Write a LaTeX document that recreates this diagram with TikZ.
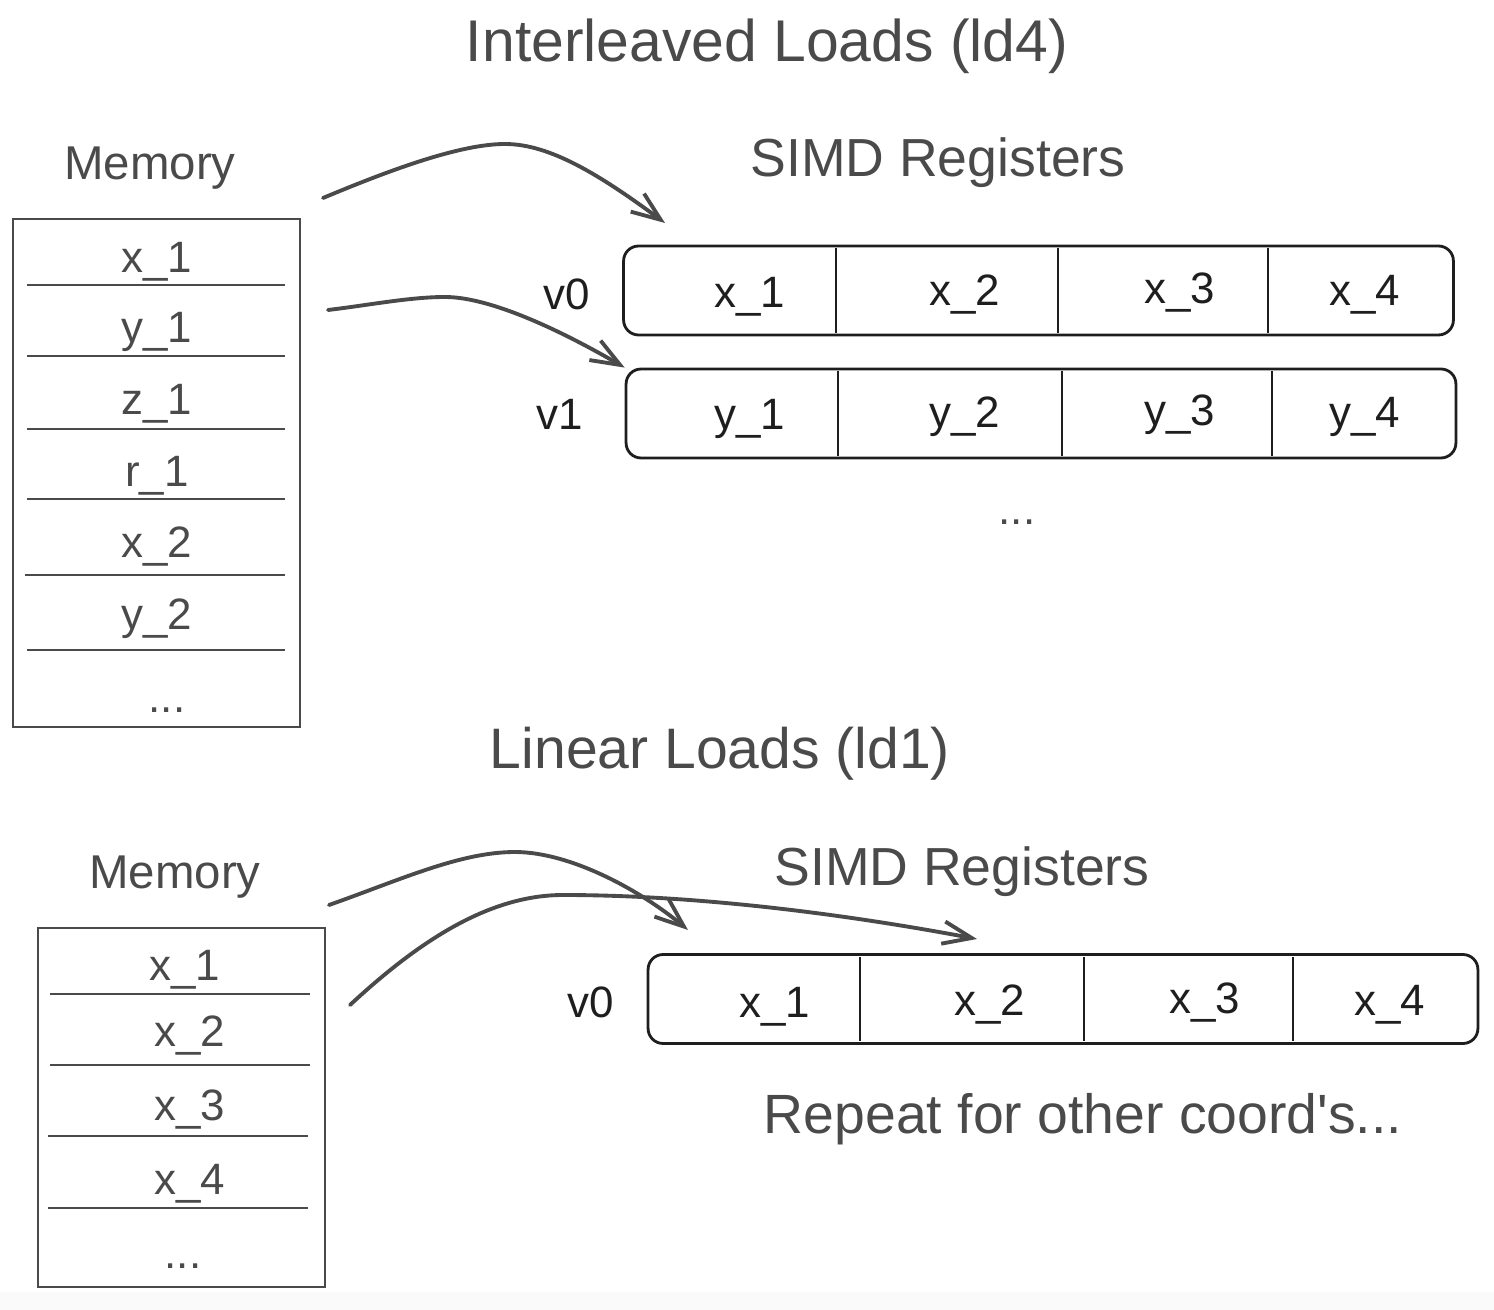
\documentclass[tikz,border=0pt]{standalone}
\usepackage{fontspec}
\setmainfont{Liberation Sans}
\usetikzlibrary{arrows.meta}

\definecolor{ink}{HTML}{1E1E1E}
\definecolor{pencil}{HTML}{4A4A4A}

\tikzset{
  heading/.style={text=pencil, anchor=base, font=\fontsize{31}{36}\selectfont},
  memtext/.style={text=pencil, anchor=base, font=\fontsize{25}{30}\selectfont},
  regtext/.style={text=ink, anchor=base, font=\fontsize{25}{30}\selectfont},
  membox/.style={draw=pencil, line width=1.4pt, minimum width=5.74cm, inner sep=0pt},
  regbox/.style={draw=ink, line width=1.6pt, rounded corners=0.3cm, minimum width=16.6cm, minimum height=1.78cm, inner sep=0pt},
  rowline/.style={draw=pencil, line width=1.4pt},
  laneline/.style={draw=ink, line width=1.6pt},
  load/.style={draw=pencil, line width=2.2pt, line cap=round, -{Straight Barb[length=0.58cm,width=0.45cm]}},
}

\begin{document}
\begin{tikzpicture}[x=0.02cm, y=-0.02cm]
  \useasboundingbox (0,0) rectangle (1494,1310);
  \fill[black!2] (0,1292) rectangle (1494,1310);

  % interleaved loads
  \node[heading, font=\fontsize{33.5}{38}\selectfont] (ttlA) at (767,62) {Interleaved Loads (ld4)};
  \node[heading, font=\fontsize{27}{32}\selectfont] (memA) at (150,180) {Memory};
  \node[heading, font=\fontsize{30.5}{35}\selectfont] (simdA) at (938,177) {SIMD Registers};

  \node[membox, minimum height=10.16cm] (memboxA) at (156.5,473) {};
  \draw[rowline] (27,285) -- (285,285);
  \draw[rowline] (27,356) -- (285,356);
  \draw[rowline] (27,429) -- (285,429);
  \draw[rowline] (27,499) -- (285,499);
  \draw[rowline] (25,575) -- (285,575);
  \draw[rowline] (27,650) -- (285,650);
  \node[memtext] (ax1) at (157,273) {x\_1};
  \node[memtext] (ay1) at (157,343) {y\_1};
  \node[memtext] (az1) at (157,415) {z\_1};
  \node[memtext] (ar1) at (157,487) {r\_1};
  \node[memtext] (ax2) at (157,558) {x\_2};
  \node[memtext] (ay2) at (157,630) {y\_2};
  \node[memtext] (adots) at (167,712) {...};

  \node[regbox] (v0A) at (1038.5,290.5) {};
  \draw[laneline] (836,248) -- (836,333);
  \draw[laneline] (1058,248) -- (1058,333);
  \draw[laneline] (1268,248) -- (1268,333);
  \node[regtext] (v0labA) at (567,310) {v0};
  \node[regtext] (rx1) at (750,308) {x\_1};
  \node[regtext] (rx2) at (965,306) {x\_2};
  \node[regtext] (rx3) at (1180,304) {x\_3};
  \node[regtext] (rx4) at (1365,306) {x\_4};

  \node[regbox] (v1A) at (1041,413.5) {};
  \draw[laneline] (838,371) -- (838,456);
  \draw[laneline] (1062,371) -- (1062,456);
  \draw[laneline] (1272,371) -- (1272,456);
  \node[regtext] (v1labA) at (560,430) {v1};
  \node[regtext] (ry1) at (750,430) {y\_1};
  \node[regtext] (ry2) at (965,428) {y\_2};
  \node[regtext] (ry3) at (1180,426) {y\_3};
  \node[regtext] (ry4) at (1365,428) {y\_4};
  \node[memtext] (regdots) at (1017,525) {...};

  \coordinate (aS1) at (323,198);
  \coordinate (aP1) at (505,144);
  \coordinate (aS2) at (328,310);
  \coordinate (aP2) at (445,297);
  \draw[load] (aS1) .. controls (390,170) and (460,144) .. (aP1)
              .. controls (550,144) and (600,175) .. (665,223);
  \draw[load] (aS2) .. controls (370,305) and (410,297) .. (aP2)
              .. controls (490,297) and (560,330) .. (v1A.north west);

  % linear loads
  \node[heading, font=\fontsize{32.5}{38}\selectfont] (ttlB) at (720,768) {Linear Loads (ld1)};
  \node[heading, font=\fontsize{27}{32}\selectfont] (memB) at (175,888) {Memory};
  \node[heading, font=\fontsize{30.5}{35}\selectfont] (simdB) at (962,885) {SIMD Registers};

  \node[membox, minimum height=7.18cm] (memboxB) at (181.5,1107.5) {};
  \draw[rowline] (50,994) -- (310,994);
  \draw[rowline] (50,1065) -- (310,1065);
  \draw[rowline] (48,1136) -- (308,1136);
  \draw[rowline] (48,1208) -- (308,1208);
  \node[memtext] (bx1) at (185,980) {x\_1};
  \node[memtext] (bx2) at (190,1046) {x\_2};
  \node[memtext] (bx3) at (190,1120) {x\_3};
  \node[memtext] (bx4) at (190,1194) {x\_4};
  \node[memtext] (bdots) at (183,1268) {...};

  \node[regbox] (v0B) at (1063,999) {};
  \draw[laneline] (860,957) -- (860,1041);
  \draw[laneline] (1084,957) -- (1084,1041);
  \draw[laneline] (1293,957) -- (1293,1041);
  \node[regtext] (v0labB) at (591,1017) {v0};
  \node[regtext] (sx1) at (775,1017) {x\_1};
  \node[regtext] (sx2) at (990,1015) {x\_2};
  \node[regtext] (sx3) at (1205,1013) {x\_3};
  \node[regtext] (sx4) at (1390,1015) {x\_4};
  \node[heading, font=\fontsize{31.5}{36}\selectfont] (again) at (1083,1133) {Repeat for other coord\textquotesingle s...};

  \coordinate (bS1) at (329,905);
  \coordinate (bP1) at (515,852);
  \coordinate (bS2) at (350,1005);
  \coordinate (bP2) at (563,895);
  \draw[load] (bS1) .. controls (400,880) and (460,852) .. (bP1)
              .. controls (570,852) and (640,890) .. (688,930);
  \draw[load] (bS2) .. controls (420,940) and (490,895) .. (bP2)
              .. controls (700,895) and (850,915) .. (977,939);
\end{tikzpicture}
\end{document}
